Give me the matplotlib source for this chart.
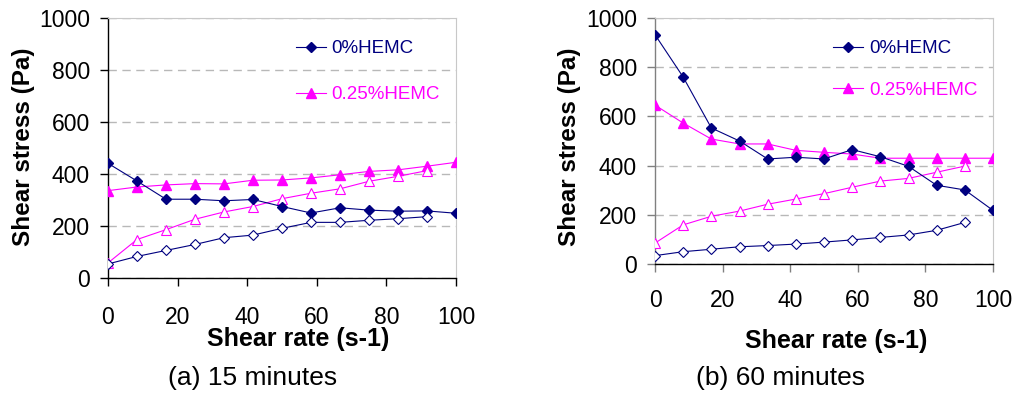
import matplotlib
matplotlib.use("Agg")
import matplotlib.pyplot as plt
from matplotlib.lines import Line2D

plt.rcParams['font.family'] = ['Liberation Sans', 'DejaVu Sans']

# shear rate steps (s-1)
shear_down = [0, 8.33, 16.67, 25, 33.33, 41.67, 50, 58.33, 66.67, 75, 83.33, 91.67, 100]
shear_up = [0, 8.33, 16.67, 25, 33.33, 41.67, 50, 58.33, 66.67, 75, 83.33, 91.67]

# (a) 15 minutes
a_hemc0_down = [441, 373, 303, 303, 297, 302, 275, 250, 270, 261, 257, 258, 249]
a_hemc0_up = [54, 83, 106, 129, 155, 165, 191, 214, 214, 222, 228, 236]
a_hemc25_down = [336, 350, 358, 363, 362, 376, 377, 385, 397, 410, 416, 430, 445]
a_hemc25_up = [58, 148, 186, 226, 254, 275, 305, 326, 343, 372, 391, 413]

# (b) 60 minutes
b_hemc0_down = [932, 760, 553, 500, 427, 434, 427, 465, 436, 397, 320, 301, 218]
b_hemc0_up = [34, 50, 60, 70, 75, 81, 89, 98, 108, 118, 137, 169]
b_hemc25_down = [646, 573, 508, 488, 488, 462, 454, 447, 430, 430, 430, 430, 430]
b_hemc25_up = [85, 159, 194, 215, 243, 264, 286, 312, 337, 348, 373, 398]

labels = ['0%HEMC', '0.25%HEMC']
captions = ['(a) 15 minutes', '(b) 60 minutes']
NAVY = '#000080'
MAG = '#FF00FF'

fig = plt.figure(figsize=(10.17, 3.99), dpi=100)
ax1 = fig.add_axes([108/1017, (399-278)/399, 348/1017, 260/399])
ax2 = fig.add_axes([655/1017, (399-264)/399, 338/1017, 246/399])


def draw(ax, h0d, h0u, h25d, h25u, axis_col):
    ax.set_axisbelow(True)
    ax.plot(shear_down, h0d, color=NAVY, lw=0.8, marker='D', ms=5, mfc=NAVY, mec=NAVY, zorder=4)
    ax.plot(shear_up, h0u, color=NAVY, lw=0.8, marker='D', ms=5, mfc='white', mec=NAVY, mew=0.8, zorder=4)
    ax.plot(shear_down, h25d, color=MAG, lw=0.8, marker='^', ms=7, mfc=MAG, mec=MAG, zorder=3)
    ax.plot(shear_up, h25u, color=MAG, lw=0.8, marker='^', ms=7, mfc='white', mec=MAG, mew=0.8, zorder=3)

    ax.set_xlim(0, 100)
    ax.set_ylim(0, 1000)
    ax.set_xticks([0, 20, 40, 60, 80, 100])
    ax.set_yticks([0, 200, 400, 600, 800, 1000])
    ax.yaxis.grid(True, color='#b8b8b8', ls=(0, (6, 4)), lw=1.0)

    for s in ['top', 'right']:
        ax.spines[s].set_color('#c8c8c8')
        ax.spines[s].set_linewidth(0.8)
    ax.spines['left'].set_color(axis_col)
    ax.spines['bottom'].set_color('black')
    ax.spines['left'].set_linewidth(1.0)
    ax.spines['bottom'].set_linewidth(1.0)
    ax.tick_params(axis='y', direction='out', length=6, width=1.0, color=axis_col,
                   labelsize=16.5, pad=7)
    ax.tick_params(axis='x', direction='out', length=6, width=1.0, color=axis_col,
                   labelsize=16.5, pad=14)

    ax.set_ylabel('Shear stress (Pa)', fontsize=17.5, fontweight='bold')
    ax.set_xlabel('Shear rate (s-1)', fontsize=18, fontweight='bold')

    handles = [Line2D([], [], color=NAVY, lw=0.8, marker='D', ms=5),
               Line2D([], [], color=MAG, lw=0.8, marker='^', ms=7)]
    return handles


h = draw(ax1, a_hemc0_down, a_hemc0_up, a_hemc25_down, a_hemc25_up, 'black')
ax1.tick_params(axis='x', pad=14)
ax1.yaxis.set_label_coords(-0.21, 0.504)
ax1.xaxis.set_label_coords(0.546, -0.19)
ax1.legend(h, labels, loc='upper left', bbox_to_anchor=(0.54, 0.915), frameon=False,
           fontsize=13.5, labelcolor=[NAVY, MAG], handlelength=1.6, handletextpad=0.3,
           labelspacing=1.55, borderpad=0, borderaxespad=0)

h = draw(ax2, b_hemc0_down, b_hemc0_up, b_hemc25_down, b_hemc25_up, '#808080')
ax2.tick_params(axis='x', pad=12)
ax2.yaxis.set_label_coords(-0.22, 0.476)
ax2.xaxis.set_label_coords(0.536, -0.265)
ax2.legend(h, labels, loc='upper left', bbox_to_anchor=(0.527, 0.91), frameon=False,
           fontsize=13.5, labelcolor=[NAVY, MAG], handlelength=1.6, handletextpad=0.3,
           labelspacing=1.3, borderpad=0, borderaxespad=0)

fig.text(253/1017, 1 - 378/399, captions[0], fontsize=19, ha='center', va='center')
fig.text(781/1017, 1 - 378/399, captions[1], fontsize=19, ha='center', va='center')

fig.savefig('out.png', dpi=100)
